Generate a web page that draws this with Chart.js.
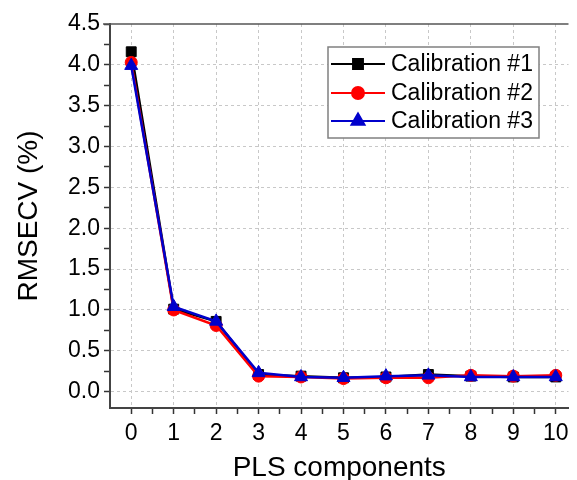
<!DOCTYPE html>
<html>
<head>
<meta charset="utf-8">
<script src="https://cdn.jsdelivr.net/npm/chart.js@4/dist/chart.umd.min.js"></script>
<style>
  html, body { margin: 0; padding: 0; background: #fff; }
  #wrap { width: 577px; height: 480px; }
</style>
</head>
<body>
<div id="wrap"><canvas id="rmsecvChart"></canvas></div>
<script>
"use strict";
// PLS components on the x axis
var components = [0, 1, 2, 3, 4, 5, 6, 7, 8, 9, 10];
var calibration1 = [4.16, 1.01, 0.86, 0.21, 0.19, 0.17, 0.18, 0.21, 0.19, 0.18, 0.18];
var calibration2 = [4.03, 1.00, 0.81, 0.19, 0.18, 0.16, 0.17, 0.17, 0.20, 0.19, 0.20];
var calibration3 = [3.99, 1.04, 0.86, 0.23, 0.18, 0.17, 0.19, 0.20, 0.18, 0.18, 0.18];
var seriesNames = ['Calibration #1', 'Calibration #2', 'Calibration #3'];
// major + minor tick positions
var xTicks = [0, 0.5, 1, 1.5, 2, 2.5, 3, 3.5, 4, 4.5, 5, 5.5, 6, 6.5, 7, 7.5, 8, 8.5, 9, 9.5, 10];
var yTicks = [0, 0.25, 0.5, 0.75, 1, 1.25, 1.5, 1.75, 2, 2.25, 2.5, 2.75, 3, 3.25, 3.5, 3.75, 4, 4.25, 4.5];

function pairs(ys) {
    return components.map(function(c, i) { return {x: c, y: ys[i]}; });
}

var font = "'Liberation Sans', Arial, sans-serif";

var frameAndLegend = {
    id: 'frameAndLegend',
    afterDraw: function(chart) {
        var ctx = chart.ctx, a = chart.chartArea;
        ctx.save();
        // top frame line
        ctx.strokeStyle = '#555';
        ctx.lineWidth = 1.5;
        ctx.beginPath();
        ctx.moveTo(a.left - 7, a.top);
        ctx.lineTo(a.right, a.top);
        ctx.stroke();

        // legend box
        ctx.fillStyle = '#fff';
        ctx.fillRect(328, 47, 211, 91);
        ctx.strokeStyle = '#808080';
        ctx.lineWidth = 1.5;
        ctx.strokeRect(328, 47, 211, 91);
        var rows = [64, 93, 121];
        chart.data.datasets.forEach(function(ds, i) {
            var y = rows[i];
            ctx.strokeStyle = ds.borderColor;
            ctx.lineWidth = 2;
            ctx.beginPath();
            ctx.moveTo(331, y);
            ctx.lineTo(385, y);
            ctx.stroke();
            ctx.fillStyle = ds.pointBackgroundColor;
            ctx.strokeStyle = ds.pointBorderColor;
            Chart.helpers.drawPoint(ctx, {
                pointStyle: ds.pointStyle,
                radius: ds.pointRadius,
                borderWidth: 1,
                rotation: 0
            }, 358, y);
            ctx.fillStyle = '#000';
            ctx.font = '23px ' + font;
            ctx.textBaseline = 'middle';
            ctx.textAlign = 'left';
            ctx.fillText(ds.label, 391, y + 1);
        });
        ctx.restore();
    }
};

var ctx = document.getElementById('rmsecvChart').getContext('2d');
var chart = new Chart(ctx, {
    type: 'line',
    data: {
        datasets: [{
            label: seriesNames[0],
            data: pairs(calibration1),
            order: 3,
            borderColor: '#000000',
            pointBackgroundColor: '#000000',
            pointBorderColor: '#000000',
            pointStyle: 'rect',
            pointRadius: 7
        }, {
            label: seriesNames[1],
            data: pairs(calibration2),
            order: 2,
            borderColor: '#ff0000',
            pointBackgroundColor: '#ff0000',
            pointBorderColor: '#ff0000',
            pointStyle: 'circle',
            pointRadius: 6
        }, {
            label: seriesNames[2],
            data: pairs(calibration3),
            order: 1,
            borderColor: '#0000cc',
            pointBackgroundColor: '#0000cc',
            pointBorderColor: '#0000cc',
            pointStyle: 'triangle',
            pointRadius: 7.5
        }]
    },
    options: {
        responsive: true,
        maintainAspectRatio: false,
        animation: false,
        layout: { padding: { top: 24, right: 0, left: 0, bottom: 0 } },
        elements: {
            line: { borderWidth: 2.5, tension: 0 },
            point: { borderWidth: 1, hoverRadius: 7 }
        },
        plugins: {
            legend: { display: false },
            tooltip: { enabled: false }
        },
        scales: {
            x: {
                type: 'linear',
                min: -0.5,
                max: 10.3,
                afterBuildTicks: function(s) {
                    s.ticks = xTicks.map(function(v) { return {value: v}; });
                },
                afterFit: function(s) { s.height = 72; },
                ticks: {
                    autoSkip: false,
                    maxRotation: 0,
                    padding: 6,
                    color: '#000',
                    font: { size: 23, family: font },
                    callback: function(v) { return Number.isInteger(v) ? String(v) : ''; }
                },
                grid: {
                    color: function(c) {
                        return c.tick && Number.isInteger(c.tick.value) ? '#c8c8c8' : 'rgba(0,0,0,0)';
                    },
                    lineWidth: 1,
                    tickColor: '#333',
                    tickLength: 6,
                    tickWidth: 1.5,
                    tickBorderDash: []
                },
                border: { display: true, color: '#444', width: 2, dash: [3, 3] },
                title: {
                    display: true,
                    text: 'PLS components',
                    color: '#000',
                    font: { size: 28, family: font },
                    padding: { top: 0, bottom: -5 }
                }
            },
            y: {
                min: -0.2,
                max: 4.5,
                afterBuildTicks: function(s) {
                    s.ticks = yTicks.map(function(v) { return {value: v}; });
                },
                afterFit: function(s) { s.width = 110; },
                ticks: {
                    autoSkip: false,
                    padding: 4,
                    color: '#000',
                    font: { size: 23, family: font },
                    callback: function(v) {
                        return Math.abs(v * 2 - Math.round(v * 2)) < 1e-6 ? v.toFixed(1) : '';
                    }
                },
                grid: {
                    color: function(c) {
                        if (!c.tick) return 'rgba(0,0,0,0)';
                        var v = c.tick.value;
                        var major = Math.abs(v * 2 - Math.round(v * 2)) < 1e-6;
                        return major && v < 4.4 ? '#c8c8c8' : 'rgba(0,0,0,0)';
                    },
                    lineWidth: 1,
                    tickColor: '#333',
                    tickLength: 6,
                    tickWidth: 1.5,
                    tickBorderDash: []
                },
                border: { display: true, color: '#444', width: 2, dash: [3, 3] },
                title: {
                    display: true,
                    text: 'RMSECV (%)',
                    color: '#000',
                    font: { size: 28, family: font },
                    padding: { top: 12, bottom: 0 }
                }
            }
        }
    },
    plugins: [frameAndLegend]
});
</script>
</body>
</html>
